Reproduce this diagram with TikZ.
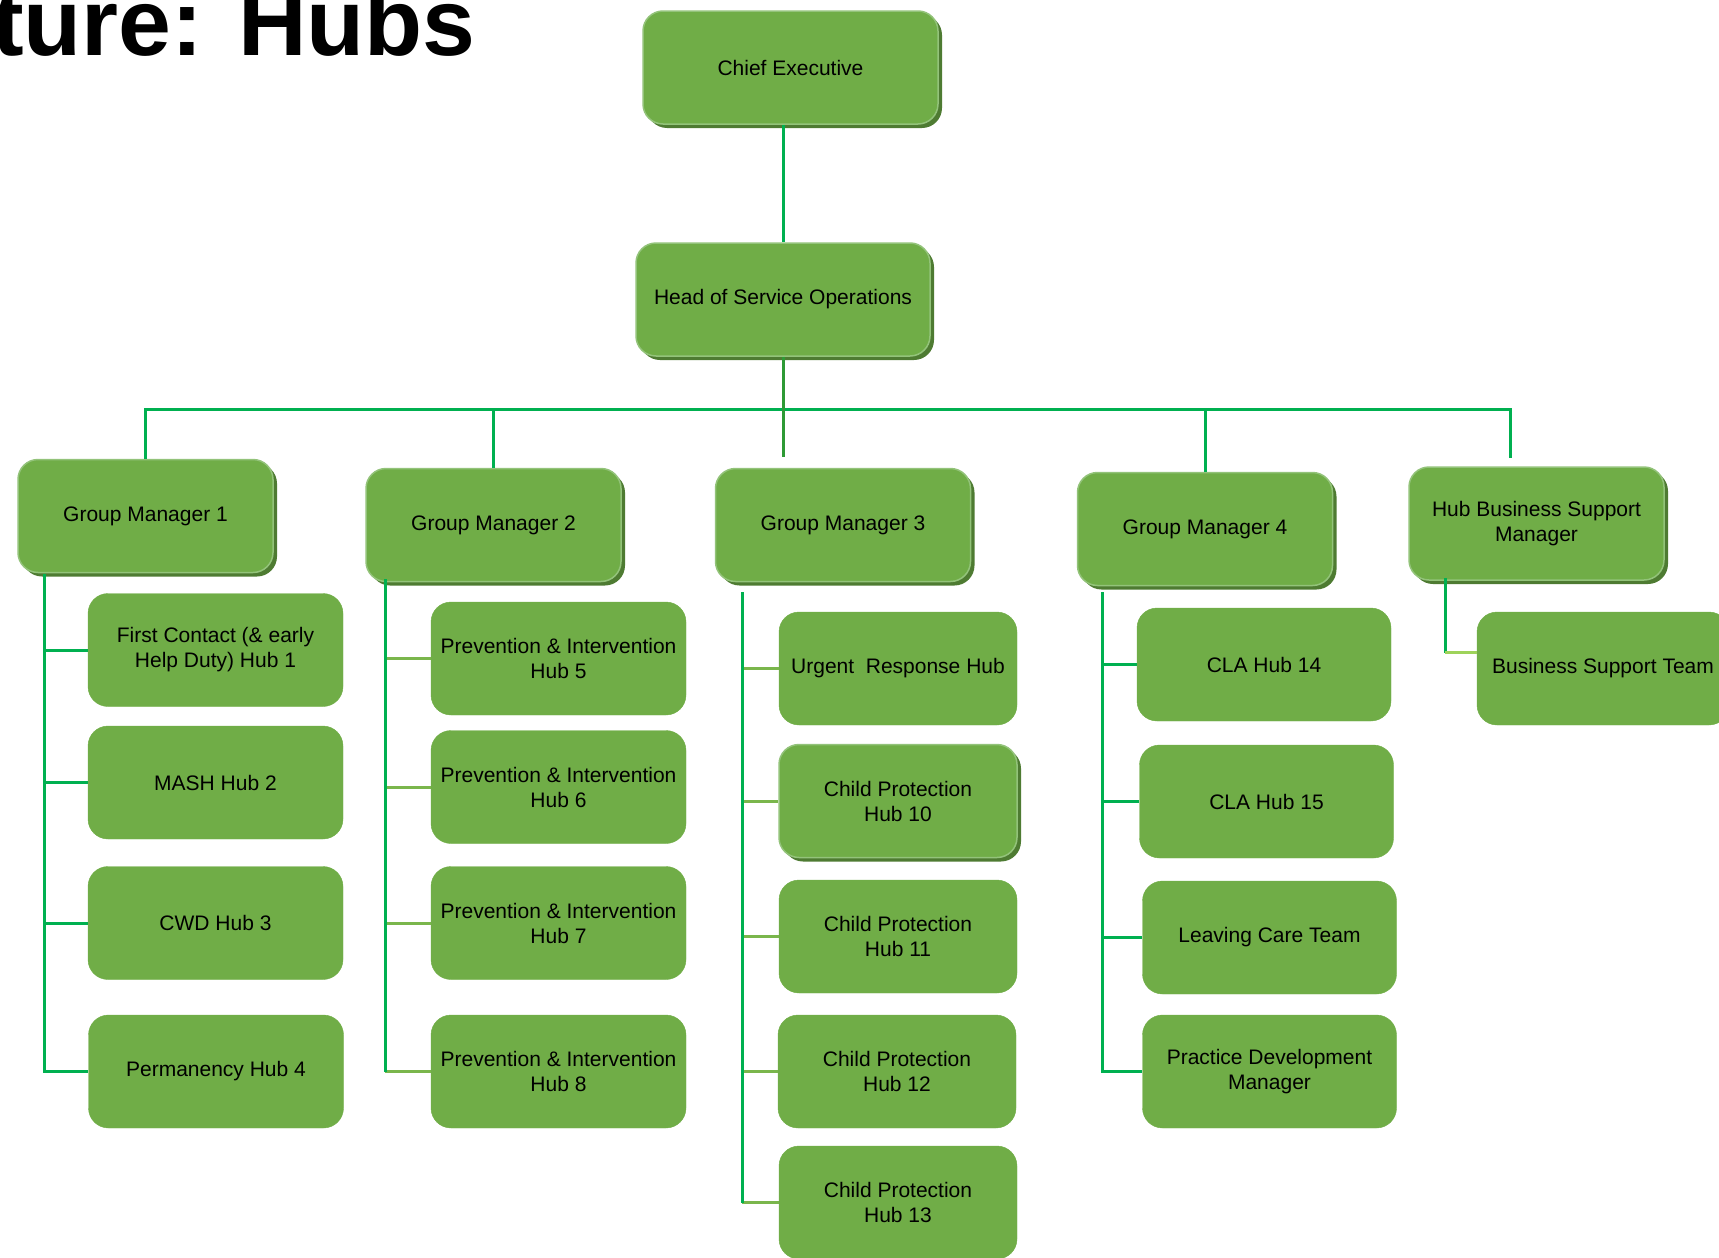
\documentclass[tikz,border=0pt]{standalone}
\usepackage{fontspec}
\setmainfont{Liberation Sans}
\usetikzlibrary{shadows}

\definecolor{boxgreen}{HTML}{70AD47}
\definecolor{shadegreen}{HTML}{4E7B32}
\definecolor{rimgreen}{HTML}{93C37A}
\definecolor{linegreen}{HTML}{00B050}
\definecolor{headgreen}{HTML}{2E9A35}
\definecolor{twiggreen}{HTML}{7AB64C}
\definecolor{palegreen}{HTML}{9ED35A}

\tikzset{
  hub/.style={rectangle, rounded corners=20pt, fill=boxgreen, draw=boxgreen,
    inner sep=0pt, minimum width=255pt, minimum height=113pt, align=center,
    font=\fontsize{21}{25}\selectfont},
  boss/.style={hub, draw=rimgreen, line width=1.5pt,
    drop shadow={shadow xshift=4pt, shadow yshift=-4pt, fill=shadegreen, opacity=1}},
  link/.style={draw=linegreen, line width=3pt},
  headlink/.style={draw=headgreen, line width=3pt},
  twig/.style={draw=twiggreen, line width=3pt},
  palelink/.style={draw=palegreen, line width=3pt}
}

\begin{document}
\begin{tikzpicture}[x=1pt, y=-1pt]

\useasboundingbox (0,0) rectangle (1719,1258);
\clip (0,0) rectangle (1719,1258);

\node[anchor=base east, inner sep=0pt, font=\fontsize{95}{100}\selectfont\bfseries] (title) at (476,55) {ture: Hubs};

\node[boss, minimum width=295pt] (ce) at (790.5,67.5) {Chief Executive};
\node[boss, minimum width=294pt] (hso) at (783,299.5) {Head of Service Operations};

\node[boss] (gm1) at (145.5,516) {Group Manager 1};
\node[boss] (gm2) at (493.5,525) {Group Manager 2};
\node[boss] (gm3) at (843,525) {Group Manager 3};
\node[boss] (gm4) at (1205,529) {Group Manager 4};
\node[boss] (hbsm) at (1536.5,523.5) {Hub Business Support\\Manager};

\node[hub] (fch) at (215.5,650) {First Contact (\& early\\Help Duty) Hub 1};
\node[hub] (mash) at (215.5,782.5) {MASH Hub 2};
\node[hub] (cwd) at (215.5,923) {CWD Hub 3};
\node[hub] (perm) at (216,1071.5) {Permanency Hub 4};

\node[hub] (pi5) at (558.5,658.5) {Prevention \& Intervention\\Hub 5};
\node[hub] (pi6) at (558.5,787) {Prevention \& Intervention\\Hub 6};
\node[hub] (pi7) at (558.5,923) {Prevention \& Intervention\\Hub 7};
\node[hub] (pi8) at (558.5,1071.5) {Prevention \& Intervention\\Hub 8};

\node[hub, minimum width=238pt] (urh) at (898,668.5) {Urgent\ \ Response Hub};
\node[boss, minimum width=238pt] (cp10) at (898,801) {Child Protection\\Hub 10};
\node[hub, minimum width=238pt] (cp11) at (898,936.5) {Child Protection\\Hub 11};
\node[hub, minimum width=238pt] (cp12) at (897,1071.5) {Child Protection\\Hub 12};
\node[hub, minimum width=238pt] (cp13) at (898,1202.5) {Child Protection\\Hub 13};

\node[hub, minimum width=254pt] (cla14) at (1264,664.5) {CLA Hub 14};
\node[hub, minimum width=254pt] (cla15) at (1266.5,801.5) {CLA Hub 15};
\node[hub, minimum width=254pt] (lct) at (1269.5,937.5) {Leaving Care Team};
\node[hub, minimum width=254pt] (pdm) at (1269.5,1071.5) {Practice Development\\Manager};

\node[hub, minimum width=252pt] (bst) at (1603,668.5) {Business Support Team};

\coordinate (busR) at (1510,409);
\coordinate (gm3in) at (783,457);
\coordinate (hbsmin) at (1510,458);
\coordinate (t1) at (44,574);
\coordinate (t2) at (385,579);
\coordinate (t3) at (742,592);
\coordinate (t4) at (1102,592);
\coordinate (t5) at (1445,578);
\coordinate (bstin) at ([yshift=16pt]bst.west);

\draw[link] (hso.north |- ce.south) -- (hso.north);
\draw[link] (gm1.north) -- (gm1.north |- busR) -- (busR) -- (hbsmin);
\draw[link] (gm2.north) -- (gm2.north |- busR);
\draw[link] (gm4.north) -- (gm4.north |- busR);
\draw[headlink] (hso.south) -- (gm3in);

\foreach \h in {fch,mash,cwd,perm}
  \draw[link] (t1) |- (\h.west);

\foreach \h in {pi5,pi6,pi7,pi8}
  \draw[twig] (t2 |- \h.west) -- (\h.west);
\draw[link] (t2) -- (t2 |- pi8.west);

\foreach \h in {urh,cp10,cp11,cp12,cp13}
  \draw[twig] (t3 |- \h.west) -- (\h.west);
\draw[link] (t3) -- (t3 |- cp13.west);

\foreach \h in {cla14,cla15,lct,pdm}
  \draw[link] (t4) |- (\h.west);

\draw[link] (t5) -- (t5 |- bstin);
\draw[palelink] (t5 |- bstin) -- (bstin);

\end{tikzpicture}
\end{document}
